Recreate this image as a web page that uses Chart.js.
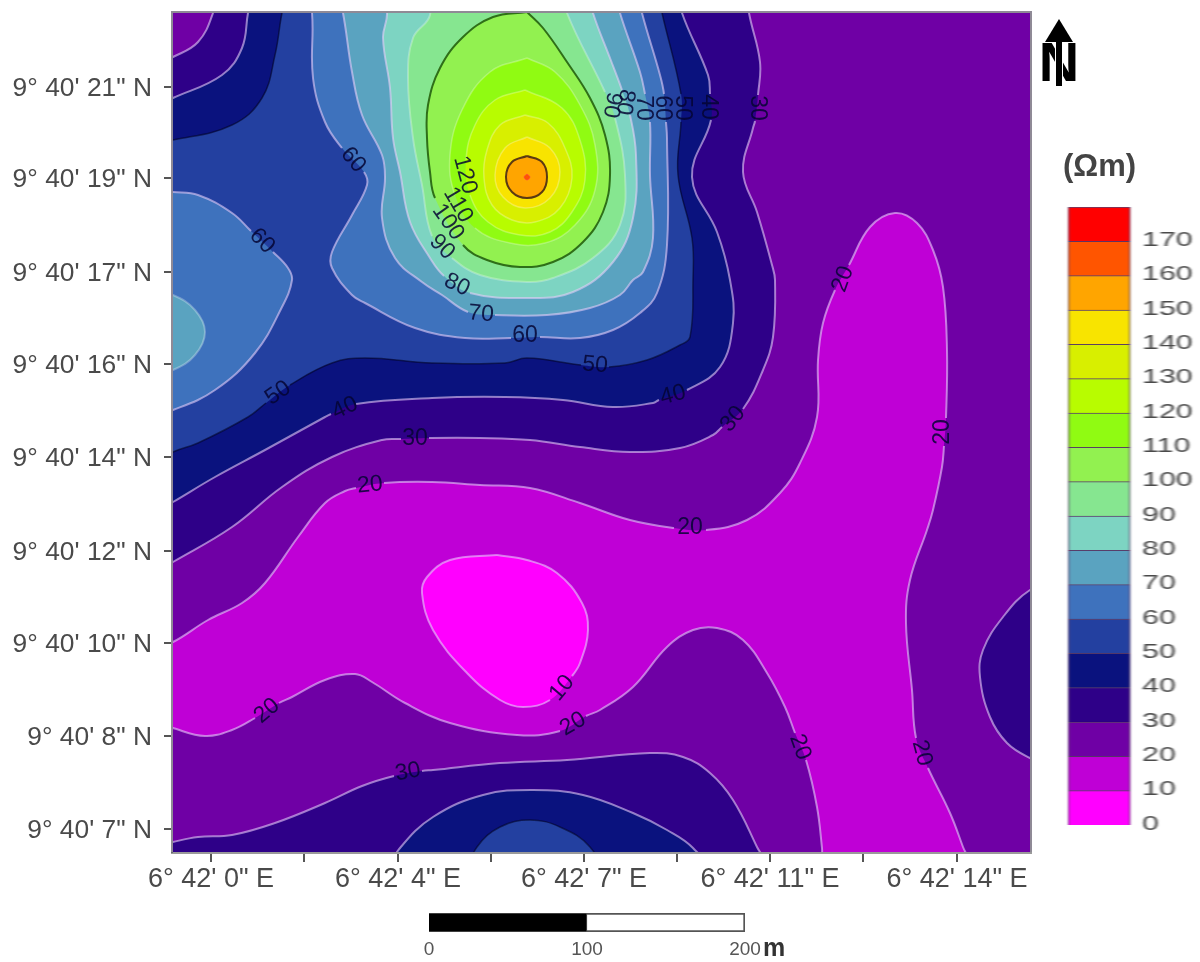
<!DOCTYPE html>
<html>
<head>
<meta charset="utf-8">
<title>Resistivity map</title>
<script src="https://cdn.jsdelivr.net/npm/chart.js@4/dist/chart.umd.min.js"></script>
<style>
  html, body { margin: 0; padding: 0; background: #fff; overflow: hidden; }
  body { position: relative; width: 1200px; height: 962px; font-family: "Liberation Sans", Arial, sans-serif; }
  canvas { position: absolute; display: block; filter: blur(0.6px); }
  #mapChart { left: 0; top: 0; }
  #barChart { left: 1068px; top: 190px; transform-origin: 0 0; transform: scaleX(1.45); }
  #scaleChart { left: 400px; top: 900px; }
  #unit { position: absolute; left: 1063px; top: 148px; font-size: 31px; font-weight: bold; color: #444; filter: blur(0.5px); }
  #metre { position: absolute; left: 763px; top: 933px; font-size: 25px; font-weight: bold; color: #333; }
  #north { position: absolute; left: 1030px; top: 10px; filter: blur(0.5px); }
</style>
</head>
<body>
<canvas id="mapChart" width="1200" height="962"></canvas>
<canvas id="barChart" width="95" height="650"></canvas>
<canvas id="scaleChart" width="400" height="62"></canvas>
<div id="unit">(Ωm)</div>
<div id="metre">m</div>
<svg id="north" width="70" height="90" viewBox="0 0 70 90">
  <text x="29" y="71" text-anchor="middle" font-family="Liberation Sans" font-weight="bold" font-size="56" fill="#000">N</text>
  <line x1="29" y1="30" x2="29" y2="76" stroke="#fff" stroke-width="8"/>
  <line x1="29" y1="30" x2="29" y2="76" stroke="#000" stroke-width="6"/>
  <polygon points="29,9 15,32 43,32" fill="#000"/>
</svg>

<script>
// ===== DATA =====
// resistivity classes, Ohm m
const bandEdges  = [0, 10, 20, 30, 40, 50, 60, 70, 80, 90, 100, 110, 120, 130, 140, 150, 160, 170, 180];
const bandColors = ['#ff00ff', '#bf00d6', '#6f00a5', '#2e0088', '#0a127e', '#2340a0', '#3e72bd', '#5aa3c0',
                    '#7dd4c2', '#86e690', '#92f150', '#90fb12', '#b8fc00', '#d8ef00', '#f8e400', '#ffa500',
                    '#ff5500', '#ff0000'];
const barTickLabels = ['0', '10', '20', '30', '40', '50', '60', '70', '80', '90', '100', '110', '120', '130', '140', '150', '160', '170', ''];

// map axes, grid units from the south west corner of the frame
const xTickValues = [39, 132, 226, 319, 412, 505, 598, 691, 785];
const xTickLabels = ['6° 42\' 0" E', '', '6° 42\' 4" E', '', '6° 42\' 7" E', '', '6° 42\' 11" E', '', '6° 42\' 14" E'];
const yTickValues = [23, 116, 209, 301, 395, 488, 580, 674, 765];
const yTickLabels = ['9° 40\' 7" N', '9° 40\' 8" N', '9° 40\' 10" N', '9° 40\' 12" N', '9° 40\' 14" N',
                     '9° 40\' 16" N', '9° 40\' 17" N', '9° 40\' 19" N', '9° 40\' 21" N'];

// contours, [easting, northing] in the same grid units
const low20 = [[-22,202],[1,210],[36,232],[70,249],[93,269],[126,315],[153,349],[173,361],[184,364],[212,369],[260,370],[308,367],[358,364],[408,349],[458,332],[502,324],[534,322],[575,332],[608,359],[628,389],[645,435],[646,492],[651,529],[663,562],[677,587],[698,625],[723,639],[745,629],[761,602],[771,565],[775,502],[774,434],[772,406],[770,385],[761,342],[755,322],[738,272],[734,229],[740,162],[744,114],[756,84],[778,39],[791,5],[803,-28],[653,-28],[650,4],[645,45],[634,92],[623,119],[613,145],[595,179],[571,212],[545,224],[521,222],[495,205],[461,165],[428,142],[414,136],[388,121],[345,117],[278,129],[233,149],[200,170],[183,178],[153,172],[120,155],[107,149],[83,134],[60,122],[33,116],[1,124],[-22,132],[-22,202]];
const low10 = [[325,297],[278,292],[255,275],[250,259],[261,222],[295,179],[328,152],[351,145],[378,152],[400,176],[408,189],[416,222],[410,249],[385,279],[355,292],[325,297]];

const main30 = [[-22,277],[1,290],[60,325],[110,365],[160,395],[210,412],[229,413],[257,414],[308,414],[358,412],[408,405],[458,400],[508,404],[541,417],[550,425],[571,443],[591,482],[601,515],[603,572],[600,587],[585,640],[571,680],[581,724],[583,731],[586,757],[588,790],[577,839],[573,872],[-22,872],[-22,277]];
const south30 = [[-22,4],[1,10],[26,15],[60,17],[103,29],[153,49],[190,66],[222,76],[250,81],[261,82],[328,89],[395,92],[478,99],[511,95],[538,79],[561,52],[585,5],[600,-28],[-22,-28],[-22,4]];
const east30 = [[888,272],[858,262],[831,235],[811,202],[808,175],[818,135],[835,109],[858,94],[888,82],[888,272]];

const main40 = [[-22,337],[1,350],[43,375],[93,402],[153,435],[159,438],[184,448],[260,454],[333,455],[391,452],[441,445],[481,449],[487,452],[515,462],[548,485],[561,529],[558,572],[545,620],[520,675],[539,732],[538,758],[536,777],[510,839],[503,872],[-22,872],[-22,337]];
const south40 = [[213,-23],[228,4],[261,35],[311,57],[361,62],[411,57],[461,39],[495,22],[521,4],[538,-23],[213,-23]];

const main50 = [[-22,387],[1,400],[26,409],[76,435],[94,449],[118,467],[160,489],[193,494],[260,489],[333,489],[355,494],[409,487],[437,485],[475,492],[508,507],[518,515],[521,572],[520,614],[506,677],[509,730],[509,758],[490,839],[483,872],[-22,872],[-22,387]];
const south50 = [[293,-23],[305,5],[328,25],[358,32],[388,25],[418,5],[428,-23],[293,-23]];

const main60 = [[133,872],[140,839],[141,774],[153,730],[170,704],[192,680],[195,667],[180,637],[160,600],[160,584],[180,557],[193,549],[243,524],[293,514],[339,514],[368,515],[408,514],[441,522],[468,539],[485,559],[495,607],[495,714],[494,730],[492,758],[488,777],[470,839],[463,872],[133,872]];
const west60 = [[-22,662],[1,660],[26,657],[60,639],[79,621],[101,600],[116,584],[120,572],[110,545],[83,499],[43,462],[1,442],[-22,437],[-22,662]];
const west70 = [[-22,562],[1,557],[23,542],[33,520],[23,497],[1,482],[-22,477],[-22,562]];
const main70 = [[163,872],[171,839],[180,780],[190,737],[210,697],[213,674],[210,634],[223,594],[250,570],[270,557],[296,540],[323,537],[375,537],[418,544],[448,557],[461,572],[471,580],[481,614],[478,677],[478,730],[473,758],[468,780],[448,839],[440,872],[163,872]];
const main80 = [[208,872],[215,839],[211,814],[218,764],[221,714],[228,680],[238,630],[258,594],[272,576],[298,559],[355,554],[401,560],[441,590],[461,634],[464,697],[458,737],[450,762],[438,794],[421,839],[413,872],[208,872]];
const main90 = [[253,872],[258,837],[241,814],[236,774],[241,714],[250,667],[260,616],[280,594],[308,577],[355,570],[381,574],[421,594],[448,627],[453,677],[443,734],[433,760],[395,839],[388,872],[253,872]];
const peak100 = [[355,840],[321,835],[291,815],[268,784],[256,747],[255,714],[258,680],[263,654],[291,607],[315,592],[348,585],[381,590],[411,610],[431,640],[438,677],[433,717],[418,754],[395,790],[371,824],[355,840]];
const peak110 = [[355,794],[318,780],[290,742],[278,697],[283,657],[303,624],[338,609],[373,609],[403,627],[423,662],[423,707],[408,747],[383,780],[355,794]];
const peak120 = [[353,762],[323,752],[303,727],[294,692],[298,657],[316,630],[348,617],[378,620],[400,640],[413,672],[408,712],[390,744],[353,762]];
const peak130 = [[353,737],[328,727],[315,702],[312,674],[320,647],[340,632],[363,630],[388,644],[400,674],[393,704],[376,729],[353,737]];
const peak140 = [[355,715],[333,704],[323,677],[331,655],[353,644],[378,654],[388,680],[378,704],[355,715]];
const peak150 = [[355,696],[340,690],[334,675],[340,660],[355,654],[370,660],[375,675],[370,690],[355,696]];
const peak160 = [[355,678],[358,675],[355,672],[352,675],[355,678]];

// north west corner falls away again
const corner50 = [[118,872],[110,839],[103,797],[90,754],[60,727],[1,712],[-22,710],[-22,872],[118,872]];
const corner40 = [[83,872],[76,839],[70,804],[50,777],[1,754],[-22,744],[-22,872],[83,872]];
const corner30 = [[48,872],[41,839],[26,810],[1,795],[-22,785],[-22,872],[48,872]];

// contour labels: text, easting, northing, rotation in degrees
const contourLabels = [
  ['60',181,692,50], ['60',90,611,45], ['60',353,516,0], ['70',309,538,5], ['80',285,567,25], ['90',270,605,45],
  ['100',276,630,55], ['110',286,647,60], ['120',293,677,75],
  ['90',440,747,100], ['80',453,750,100], ['70',471,744,90], ['60',490,744,90], ['50',510,744,90], ['40',536,745,90], ['30',585,744,90],
  ['50',106,459,-35], ['40',173,444,-25], ['30',243,413,0], ['20',198,367,-5],
  ['50',423,487,5], ['40',501,457,-15], ['30',561,433,-50], ['20',518,324,0],
  ['20',671,573,-70], ['20',771,420,-90], ['20',628,105,70], ['20',750,99,75],
  ['20',401,128,-30], ['10',390,164,-50], ['20',95,141,-40], ['30',236,80,-10]
];

// scale bar, metres
const scaleSegments = [100, 100];

// ===== STYLES =====
const lightLine = 'rgba(228,205,248,0.6)';
const paleLine  = 'rgba(255,255,255,0.28)';
const darkLine  = 'rgba(0,0,30,0.55)';

// bottom layer first, each contour is filled with the class it encloses
const layers = [
  { points: low20,    band: 1,  line: lightLine, width: 2 },
  { points: low10,    band: 0,  line: lightLine, width: 2 },
  { points: main30,   band: 3,  line: lightLine, width: 2 },
  { points: south30,  band: 3,  line: lightLine, width: 2 },
  { points: east30,   band: 3,  line: lightLine, width: 2 },
  { points: main40,   band: 4,  line: lightLine, width: 2 },
  { points: south40,  band: 4,  line: lightLine, width: 2 },
  { points: main50,   band: 5,  line: darkLine,  width: 1.5 },
  { points: south50,  band: 5,  line: darkLine,  width: 1.5 },
  { points: main60,   band: 6,  line: lightLine, width: 2 },
  { points: west60,   band: 6,  line: lightLine, width: 2 },
  { points: west70,   band: 7,  line: paleLine,  width: 2 },
  { points: main70,   band: 7,  line: lightLine, width: 2 },
  { points: main80,   band: 8,  line: lightLine, width: 2 },
  { points: main90,   band: 9,  line: paleLine,  width: 2 },
  { points: peak100,  band: 10, line: '#2f6f18', width: 2 },
  { points: peak110,  band: 11, line: paleLine,  width: 1.5 },
  { points: peak120,  band: 12, line: paleLine,  width: 1.5 },
  { points: peak130,  band: 13, line: paleLine,  width: 1.5 },
  { points: peak140,  band: 14, line: paleLine,  width: 1.5 },
  { points: peak150,  band: 15, line: '#5b3a12', width: 2 },
  { points: peak160,  band: 16, line: 'rgba(255,60,90,0.5)', width: 1 },
  { points: corner50, band: 4,  line: darkLine,  width: 1.5 },
  { points: corner40, band: 3,  line: lightLine, width: 2 },
  { points: corner30, band: 2,  line: lightLine, width: 2 }
];

// the line breaks where a label sits on it
function underLabel(ctx) {
  const mx = (ctx.p0.parsed.x + ctx.p1.parsed.x) / 2;
  const my = (ctx.p0.parsed.y + ctx.p1.parsed.y) / 2;
  return contourLabels.some(function (l) {
    return Math.abs(l[1] - mx) < 10 && Math.abs(l[2] - my) < 10;
  });
}

function toXY(points) {
  return points.map(function (p) { return { x: p[0], y: p[1] }; });
}

// every contour gives two datasets: the filled shape, then its line on top.
// a segment style would cut the fill into pieces so they stay apart
const mapDatasets = [];
layers.forEach(function (l, i) {
  mapDatasets.push({
    data: toXY(l.points),
    showLine: true,
    fill: 'shape',
    tension: 0.4,
    order: (layers.length - i) * 2,
    pointRadius: 0,
    borderWidth: 0,
    backgroundColor: bandColors[l.band]
  });
  mapDatasets.push({
    data: toXY(l.points),
    showLine: true,
    fill: false,
    tension: 0.4,
    order: (layers.length - i) * 2 - 1,
    pointRadius: 0,
    borderColor: l.line,
    borderWidth: l.width,
    segment: { borderColor: function (ctx) { return underLabel(ctx) ? 'transparent' : undefined; } }
  });
});

// ===== MAP =====
const mapPlugin = {
  id: 'mapPlugin',
  beforeDatasetsDraw: function (chart) {
    const a = chart.chartArea;
    chart.ctx.fillStyle = bandColors[2];
    chart.ctx.fillRect(a.left, a.top, a.width, a.height);
  },
  afterDatasetsDraw: function (chart) {
    const ctx = chart.ctx, a = chart.chartArea;
    ctx.save();
    ctx.font = '23px "Liberation Sans"';
    ctx.fillStyle = 'rgba(5,5,50,0.85)';
    ctx.textAlign = 'center';
    ctx.textBaseline = 'middle';
    contourLabels.forEach(function (l) {
      ctx.save();
      ctx.translate(chart.scales.x.getPixelForValue(l[1]), chart.scales.y.getPixelForValue(l[2]));
      ctx.rotate(l[3] * Math.PI / 180);
      ctx.fillText(l[0], 0, 0);
      ctx.restore();
    });
    ctx.strokeStyle = '#8f8a96';
    ctx.lineWidth = 2;
    ctx.beginPath();
    ctx.moveTo(a.left, a.bottom);
    ctx.lineTo(a.left, a.top);
    ctx.lineTo(a.right, a.top);
    ctx.lineTo(a.right, a.bottom);
    ctx.stroke();
    ctx.restore();
  }
};

new Chart(document.getElementById('mapChart'), {
  type: 'scatter',
  data: { datasets: mapDatasets },
  options: {
    responsive: false,
    animation: false,
    devicePixelRatio: 1,
    layout: { padding: { top: 12, right: 169, left: 0, bottom: 0 } },
    plugins: {
      legend: { display: false },
      tooltip: { enabled: false },
      filler: { drawTime: 'beforeDatasetDraw' }
    },
    scales: {
      x: {
        type: 'linear', min: 0, max: 859,
        afterBuildTicks: function (s) { s.ticks = xTickValues.map(function (v) { return { value: v }; }); },
        afterFit: function (s) { s.height = 110; s.paddingLeft = 0; s.paddingRight = 0; },
        grid: { drawOnChartArea: false, tickLength: 10, color: '#555', lineWidth: 2 },
        border: { color: '#9a9a9a', width: 3 },
        ticks: {
          autoSkip: false, maxRotation: 0, padding: 1, color: '#4a4a4a',
          font: { family: 'Liberation Sans', size: 27 },
          callback: function (v) { return xTickLabels[xTickValues.indexOf(v)]; }
        }
      },
      y: {
        type: 'linear', min: 0, max: 840,
        afterBuildTicks: function (s) { s.ticks = yTickValues.map(function (v) { return { value: v }; }); },
        afterFit: function (s) { s.width = 172; s.paddingTop = 0; s.paddingBottom = 0; },
        grid: { drawOnChartArea: false, tickLength: 8, color: '#555', lineWidth: 2 },
        border: { color: '#6a6a72', width: 2 },
        ticks: {
          autoSkip: false, padding: 12, labelOffset: 2, color: '#4a4a4a',
          font: { family: 'Liberation Sans', size: 26.4 },
          callback: function (v) { return yTickLabels[yTickValues.indexOf(v)]; }
        }
      }
    }
  },
  plugins: [mapPlugin]
});

// ===== COLOUR BAR =====
new Chart(document.getElementById('barChart'), {
  type: 'bar',
  data: {
    labels: ['class'],
    datasets: bandColors.map(function (c, i) {
      return {
        data: [bandEdges[i + 1] - bandEdges[i]],
        backgroundColor: c,
        borderColor: 'rgba(40,0,60,0.75)',
        borderWidth: 1,
        barPercentage: 1,
        categoryPercentage: 1
      };
    })
  },
  options: {
    responsive: false,
    animation: false,
    devicePixelRatio: 1,
    layout: { padding: { top: 17, bottom: 15, left: 0, right: 0 } },
    plugins: { legend: { display: false }, tooltip: { enabled: false } },
    scales: {
      x: { stacked: true, display: false },
      y: {
        stacked: true, position: 'right', min: 0, max: 180,
        afterFit: function (s) { s.width = 52; s.paddingTop = 0; s.paddingBottom = 0; },
        grid: { display: false },
        border: { display: false },
        ticks: {
          stepSize: 10, padding: 0, labelOffset: -1, color: '#4a4a4a',
          font: { family: 'Liberation Sans', size: 21 },
          callback: function (v) { return barTickLabels[bandEdges.indexOf(v)]; }
        }
      }
    }
  }
});

// ===== SCALE BAR =====
new Chart(document.getElementById('scaleChart'), {
  type: 'bar',
  data: {
    labels: ['scale'],
    datasets: [
      { data: [scaleSegments[0]], backgroundColor: '#000', borderColor: '#555', borderWidth: 1, barPercentage: 1, categoryPercentage: 1 },
      { data: [scaleSegments[1]], backgroundColor: '#fff', borderColor: '#555', borderWidth: 2, barPercentage: 1, categoryPercentage: 1 }
    ]
  },
  options: {
    indexAxis: 'y',
    responsive: false,
    animation: false,
    devicePixelRatio: 1,
    layout: { padding: { top: 13, left: 29, right: 55, bottom: 0 } },
    plugins: { legend: { display: false }, tooltip: { enabled: false } },
    scales: {
      y: { stacked: true, display: false },
      x: {
        stacked: true, min: 0, max: 200,
        afterFit: function (s) { s.height = 30; s.paddingLeft = 0; s.paddingRight = 0; },
        grid: { display: false },
        border: { display: false },
        ticks: {
          stepSize: 100, padding: -2, maxRotation: 0, color: '#555',
          font: { family: 'Liberation Sans', size: 19 }
        }
      }
    }
  }
});
</script>
</body>
</html>
